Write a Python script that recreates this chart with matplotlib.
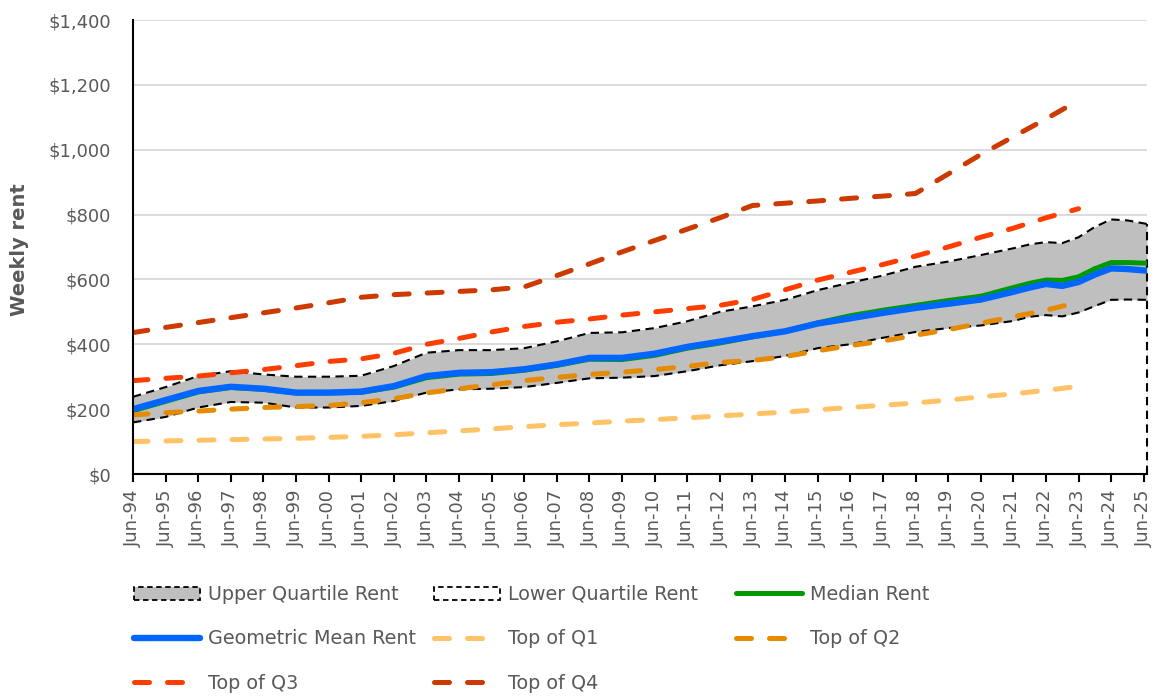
import matplotlib
matplotlib.use("Agg")
import matplotlib.pyplot as plt
from matplotlib.patches import Patch
from matplotlib.lines import Line2D

# ---------------- data ----------------
tick_labels = ["Jun-%02d" % (y % 100) for y in range(1994, 2026)]
tick_pos = list(range(len(tick_labels)))  # years since Jun-94

# rent statistics: years since Jun-94
rent_x = list(range(0, 28)) + [27.5, 28, 28.5, 29, 29.5, 30, 30.5, 31.1]
upper_q = [238, 268, 302, 317, 307, 300, 300, 303, 333, 374, 382, 382, 388, 409,
           435, 437, 450, 471, 500, 517, 537, 567, 590, 612, 639, 655, 675, 696,
           708, 715, 712, 730, 762, 785, 782, 771]
lower_q = [159, 176, 205, 222, 220, 205, 205, 210, 225, 251, 261, 263, 268, 281,
           295, 297, 302, 317, 335, 348, 364, 388, 400, 420, 438, 450, 458, 472,
           485, 490, 486, 498, 518, 537, 538, 537]
median = [195, 224, 253, 267, 261, 250, 250, 252, 268, 297, 308, 310, 320, 335,
          354, 353, 366, 388, 404, 423, 440, 466, 488, 505, 520, 535, 548, 575,
          588, 598, 597, 608, 633, 652, 652, 650]
geo_mean = [200, 228, 256, 269, 263, 251, 251, 254, 271, 302, 312, 314, 323, 338,
            358, 358, 371, 392, 408, 425, 440, 464, 480, 497, 512, 525, 538, 562,
            575, 586, 580, 592, 615, 634, 632, 627]

# quintile tops: annual, Jun-94 .. Jun-23
q_x = list(range(0, 30))
top_q1 = [100, 102, 104, 106, 108, 110, 113, 116, 121, 127, 133, 139, 146, 152, 157,
          163, 168, 173, 179, 185, 191, 198, 205, 212, 219, 228, 238, 247, 258, 270]
top_q2 = [182, 189, 194, 200, 205, 208, 211, 220, 232, 250, 263, 275, 288, 298, 307,
          314, 322, 332, 344, 350, 362, 380, 396, 410, 428, 445, 465, 485, 505, 530]
top_q3 = [288, 295, 302, 312, 322, 334, 347, 355, 372, 400, 418, 438, 455, 468, 478,
          490, 500, 510, 520, 538, 568, 598, 622, 646, 672, 700, 730, 758, 790, 818]
top_q4 = [436, 452, 467, 482, 497, 512, 528, 545, 553, 558, 563, 568, 577, 612, 648,
          685, 720, 755, 790, 828, 835, 842, 850, 857, 865, 925, 985, 1040, 1095, 1152]

y_ticks = [0, 200, 400, 600, 800, 1000, 1200, 1400]

# ---------------- style ----------------
C_GRAY = "#BFBFBF"
C_MED = "#009900"
C_GEO = "#0066FF"
C_Q1 = "#FFC266"
C_Q2 = "#E68A00"
C_Q3 = "#FF3D00"
C_Q4 = "#CC3A00"
TXT = "#595959"

plt.rcParams["font.family"] = ["DejaVu Sans"]

W, H = 1157, 698
fig = plt.figure(figsize=(W / 100, H / 100), dpi=100)
ax = fig.add_axes([133 / W, 1 - 474 / H, (1147 - 133) / W, (474 - 20) / H])

x_end = rent_x[-1]
ax.set_xlim(0, x_end)
ax.set_ylim(0, 1400)

# gridlines
for yv in y_ticks[1:]:
    ax.axhline(yv, color="#D9D9D9", lw=1.3, zorder=0.5)

# areas
blk_dash = dict(color="black", lw=1.5, dashes=(4, 2.6), zorder=2)
ax.fill_between(rent_x, 0, upper_q, color=C_GRAY, lw=0, zorder=1)
ax.fill_between(rent_x, 0, lower_q, color="white", lw=0, zorder=1.1)
ax.plot(rent_x, upper_q, **blk_dash)
ax.plot(rent_x, lower_q, **blk_dash)
ax.plot([x_end, x_end], [0, upper_q[-1]], clip_on=False, **blk_dash)

# median / geometric mean
ax.plot(rent_x, median, color=C_MED, lw=3.6, solid_capstyle="round", zorder=3)
ax.plot(rent_x, geo_mean, color=C_GEO, lw=4.6, solid_capstyle="round", zorder=3.1)

# quintile tops
qstyle = dict(lw=3.6, dashes=(3, 3.6), dash_capstyle="round", zorder=4)
ax.plot(q_x, top_q1, color=C_Q1, **qstyle)
ax.plot(q_x, top_q2, color=C_Q2, **qstyle)
ax.plot(q_x, top_q3, color=C_Q3, **qstyle)
ax.plot(q_x, top_q4, color=C_Q4, **qstyle)

# axes styling
for s in ["top", "right"]:
    ax.spines[s].set_visible(False)
ax.spines["left"].set_linewidth(1.5)
ax.spines["bottom"].set_linewidth(1.5)
ax.spines["left"].set_zorder(5)
ax.spines["bottom"].set_zorder(5)

ax.set_xticks(tick_pos)
ax.set_xticklabels(tick_labels, rotation=90, color=TXT, fontsize=13)
ax.tick_params(axis="x", direction="out", length=5.8, width=1.5, pad=5.5, colors="black",
               labelcolor=TXT)
ax.set_yticks(y_ticks)
ax.set_yticklabels(["$" + format(v, ",") for v in y_ticks], color=TXT, fontsize=13)
ax.tick_params(axis="y", length=0, pad=16)

fig.text(20 / W, 1 - 250 / H, "Weekly rent", rotation=90, ha="center", va="center",
         fontsize=14, fontweight="bold", color=TXT)

# legend (three columns placed explicitly, row-wise order as in reference)
h_upper = Patch(facecolor=C_GRAY, edgecolor="black", linestyle=(0, (3, 2)), linewidth=1.3,
                label="Upper Quartile Rent")
h_lower = Patch(facecolor="white", edgecolor="black", linestyle=(0, (3, 2)), linewidth=1.3,
                label="Lower Quartile Rent")
h_med = Line2D([], [], color=C_MED, lw=3.6, solid_capstyle="round", label="Median Rent")
h_geo = Line2D([], [], color=C_GEO, lw=4.6, solid_capstyle="round", label="Geometric Mean Rent")
h_q1 = Line2D([], [], color=C_Q1, label="Top of Q1", **qstyle)
h_q2 = Line2D([], [], color=C_Q2, label="Top of Q2", **qstyle)
h_q3 = Line2D([], [], color=C_Q3, label="Top of Q3", **qstyle)
h_q4 = Line2D([], [], color=C_Q4, label="Top of Q4", **qstyle)

columns = [([h_upper, h_geo, h_q3], 134),
           ([h_lower, h_q1, h_q4], 434),
           ([h_med, h_q2], 736)]
for handles, xpx in columns:
    leg = fig.legend(handles=handles, loc="upper left",
                     bbox_to_anchor=(xpx / W, 1 - 585 / H), frameon=False,
                     fontsize=13.8, handlelength=3.45, handletextpad=0.4,
                     labelspacing=1.32, borderpad=0, borderaxespad=0, handleheight=0.7)
    for t in leg.get_texts():
        t.set_color(TXT)

fig.savefig("out.png", dpi=100)
